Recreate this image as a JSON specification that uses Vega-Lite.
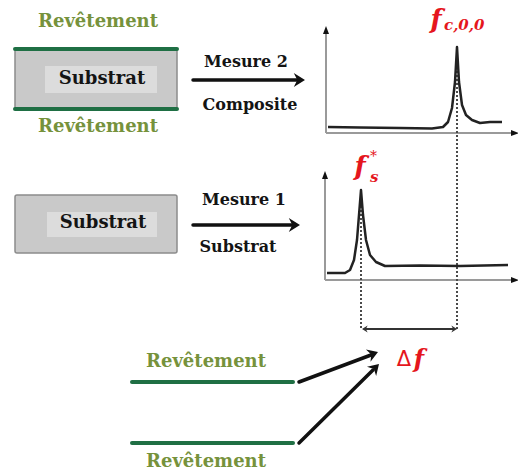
{
"$schema": "https://vega.github.io/schema/vega-lite/v6.json",
"width": 518, "height": 472, "padding": 0, "autosize": {"type": "none"},
"background": "white",
"config": {"view": {"stroke": null}},
"datasets": {
"boxes": [
{"part":"outer","x":15,"x2":177,"y":48,"y2":110},
{"part":"outer","x":15,"x2":177,"y":195,"y2":253},
{"part":"inner","x":45,"x2":157,"y":66,"y2":93},
{"part":"inner","x":47,"x2":157,"y":212,"y2":237}
],
"segments": [
{"part":"coat","x":15,"y":49,"x2":177,"y2":49},
{"part":"coat","x":15,"y":109,"x2":177,"y2":109},
{"part":"coat","x":132,"y":382,"x2":293,"y2":382},
{"part":"coat","x":132,"y":443,"x2":293,"y2":443},
{"part":"axis","x":326,"y":133,"x2":326,"y2":31},
{"part":"axis","x":326,"y":133,"x2":513,"y2":133},
{"part":"axis","x":325,"y":280,"x2":325,"y2":176},
{"part":"axis","x":325,"y":280,"x2":514,"y2":280},
{"part":"shaft","x":193,"y":80,"x2":298,"y2":80},
{"part":"shaft","x":193,"y":225,"x2":293,"y2":225},
{"part":"shaft","x":299,"y":382,"x2":371,"y2":355},
{"part":"shaft","x":299,"y":443,"x2":373,"y2":370},
{"part":"guide","x":457,"y":47,"x2":457,"y2":329},
{"part":"guide","x":361,"y":190,"x2":361,"y2":329},
{"part":"bracket","x":364,"y":329,"x2":455,"y2":329}
],
"curves": [
{"s":"composite","x":328,"y":127},{"s":"composite","x":360,"y":127.5},{"s":"composite","x":400,"y":128},{"s":"composite","x":432,"y":128.5},{"s":"composite","x":443,"y":127},{"s":"composite","x":448,"y":122},{"s":"composite","x":452,"y":108},{"s":"composite","x":455,"y":82},{"s":"composite","x":457,"y":47},{"s":"composite","x":459,"y":82},{"s":"composite","x":462,"y":105},{"s":"composite","x":466,"y":115},{"s":"composite","x":472,"y":120},{"s":"composite","x":480,"y":123},{"s":"composite","x":490,"y":122},{"s":"composite","x":502,"y":122},
{"s":"substrat","x":327,"y":273},{"s":"substrat","x":345,"y":273},{"s":"substrat","x":350,"y":270},{"s":"substrat","x":354,"y":260},{"s":"substrat","x":357,"y":240},{"s":"substrat","x":359,"y":215},{"s":"substrat","x":361,"y":190},{"s":"substrat","x":363,"y":215},{"s":"substrat","x":366,"y":240},{"s":"substrat","x":370,"y":255},{"s":"substrat","x":376,"y":262},{"s":"substrat","x":385,"y":266},{"s":"substrat","x":420,"y":265.5},{"s":"substrat","x":460,"y":266},{"s":"substrat","x":508,"y":265}
],
"heads": [
{"part":"right","x":305,"y":80},
{"part":"right","x":300,"y":225},
{"part":"diag1","x":378,"y":352},
{"part":"diag2","x":379,"y":364},
{"part":"up","x":326,"y":26},
{"part":"up","x":325,"y":171},
{"part":"axisright","x":519,"y":133},
{"part":"axisright","x":519,"y":280},
{"part":"bleft","x":362,"y":329},
{"part":"bright","x":457,"y":329}
],
"labels": [
{"part":"coat","text":"Revêtement","x":98,"y":22},
{"part":"coat","text":"Revêtement","x":98,"y":127},
{"part":"coat","text":"Revêtement","x":206,"y":362},
{"part":"coat","text":"Revêtement","x":206,"y":462},
{"part":"box","text":"Substrat","x":102,"y":79},
{"part":"box","text":"Substrat","x":103,"y":223},
{"part":"arrow","text":"Mesure 2","x":246,"y":62},
{"part":"arrow","text":"Composite","x":250,"y":105},
{"part":"arrow","text":"Mesure 1","x":244,"y":200},
{"part":"arrow","text":"Substrat","x":238,"y":247},
{"part":"mathf","text":"f","x":436,"y":20},
{"part":"sub","text":"c,0,0","x":444,"y":25},
{"part":"mathf","text":"f","x":360,"y":167},
{"part":"sub","text":"s","x":370,"y":177},
{"part":"sup","text":"*","x":370,"y":157},
{"part":"delta","text":"Δ","x":404,"y":360},
{"part":"mathf2","text":"f","x":419,"y":360}
]
},
"encoding": {
"x": {"field":"x","type":"quantitative","scale":{"domain":[0,518],"nice":false,"zero":false},"axis":null},
"y": {"field":"y","type":"quantitative","scale":{"domain":[0,472],"reverse":true,"nice":false,"zero":false},"axis":null}
},
"layer": [
{"data":{"name":"boxes"},"transform":[{"filter":"datum.part==='outer'"}],
 "mark":{"type":"rect","fill":"#c9c9c9","stroke":"#8c8c8c","strokeWidth":1.5,"cornerRadius":2},
 "encoding":{"x2":{"field":"x2"},"y2":{"field":"y2"}}},
{"data":{"name":"boxes"},"transform":[{"filter":"datum.part==='inner'"}],
 "mark":{"type":"rect","fill":"#dcdcdc"},
 "encoding":{"x2":{"field":"x2"},"y2":{"field":"y2"}}},
{"data":{"name":"segments"},"transform":[{"filter":"datum.part==='coat'"}],
 "mark":{"type":"rule","stroke":"#1f6f44","strokeWidth":4,"strokeCap":"round"},
 "encoding":{"x2":{"field":"x2"},"y2":{"field":"y2"}}},
{"data":{"name":"segments"},"transform":[{"filter":"datum.part==='axis'"}],
 "mark":{"type":"rule","stroke":"#9a9a9a","strokeWidth":2},
 "encoding":{"x2":{"field":"x2"},"y2":{"field":"y2"}}},
{"data":{"name":"segments"},"transform":[{"filter":"datum.part==='guide'"}],
 "mark":{"type":"rule","stroke":"#4a4a4a","strokeWidth":2,"strokeDash":[2,2]},
 "encoding":{"x2":{"field":"x2"},"y2":{"field":"y2"}}},
{"data":{"name":"segments"},"transform":[{"filter":"datum.part==='bracket'"}],
 "mark":{"type":"rule","stroke":"#333","strokeWidth":1.8},
 "encoding":{"x2":{"field":"x2"},"y2":{"field":"y2"}}},
{"data":{"name":"segments"},"transform":[{"filter":"datum.part==='shaft'"}],
 "mark":{"type":"rule","stroke":"#111","strokeWidth":3.5,"strokeCap":"round"},
 "encoding":{"x2":{"field":"x2"},"y2":{"field":"y2"}}},
{"data":{"name":"curves"},
 "mark":{"type":"line","stroke":"#222","strokeWidth":2.5,"strokeJoin":"round"},
 "encoding":{"detail":{"field":"s"}}},
{"data":{"name":"heads"},"transform":[{"filter":"datum.part==='right'"}],
 "mark":{"type":"point","shape":"M0,0 L-1.6,-1 L-1.1,0 L-1.6,1 Z","filled":true,"fill":"#111","opacity":1,"size":196,"angle":0}},
{"data":{"name":"heads"},"transform":[{"filter":"datum.part==='diag1'"}],
 "mark":{"type":"point","shape":"M0,0 L-1.6,-1 L-1.1,0 L-1.6,1 Z","filled":true,"fill":"#111","opacity":1,"size":170,"angle":339.6}},
{"data":{"name":"heads"},"transform":[{"filter":"datum.part==='diag2'"}],
 "mark":{"type":"point","shape":"M0,0 L-1.6,-1 L-1.1,0 L-1.6,1 Z","filled":true,"fill":"#111","opacity":1,"size":170,"angle":315.4}},
{"data":{"name":"heads"},"transform":[{"filter":"datum.part==='up'"}],
 "mark":{"type":"point","shape":"M0,0 L0.6,1.6 L-0.6,1.6 Z","filled":true,"fill":"#111","opacity":1,"size":100,"angle":0}},
{"data":{"name":"heads"},"transform":[{"filter":"datum.part==='axisright'"}],
 "mark":{"type":"point","shape":"M0,0 L0.6,1.6 L-0.6,1.6 Z","filled":true,"fill":"#111","opacity":1,"size":100,"angle":90}},
{"data":{"name":"heads"},"transform":[{"filter":"datum.part==='bleft'"}],
 "mark":{"type":"point","shape":"M0,0 L-1.6,-1 L-1.1,0 L-1.6,1 Z","filled":true,"fill":"#333","opacity":1,"size":50,"angle":180}},
{"data":{"name":"heads"},"transform":[{"filter":"datum.part==='bright'"}],
 "mark":{"type":"point","shape":"M0,0 L-1.6,-1 L-1.1,0 L-1.6,1 Z","filled":true,"fill":"#333","opacity":1,"size":50,"angle":0}},
{"data":{"name":"labels"},"transform":[{"filter":"datum.part==='coat'"}],
 "mark":{"type":"text","font":"DejaVu Serif","fontWeight":"bold","fontSize":18,"fill":"#76923c","align":"center","baseline":"middle"},
 "encoding":{"text":{"field":"text"}}},
{"data":{"name":"labels"},"transform":[{"filter":"datum.part==='box'"}],
 "mark":{"type":"text","font":"DejaVu Serif","fontWeight":"bold","fontSize":18,"fill":"#141414","align":"center","baseline":"middle"},
 "encoding":{"text":{"field":"text"}}},
{"data":{"name":"labels"},"transform":[{"filter":"datum.part==='arrow'"}],
 "mark":{"type":"text","font":"DejaVu Serif","fontWeight":"bold","fontSize":16,"fill":"#141414","align":"center","baseline":"middle"},
 "encoding":{"text":{"field":"text"}}},
{"data":{"name":"labels"},"transform":[{"filter":"datum.part==='mathf'"}],
 "mark":{"type":"text","font":"DejaVu Serif","fontStyle":"italic","fontWeight":"bold","fontSize":26,"fill":"#e5161d","align":"center","baseline":"middle"},
 "encoding":{"text":{"field":"text"}}},
{"data":{"name":"labels"},"transform":[{"filter":"datum.part==='sub'"}],
 "mark":{"type":"text","font":"DejaVu Serif","fontStyle":"italic","fontWeight":"bold","fontSize":15,"fill":"#e5161d","align":"left","baseline":"middle"},
 "encoding":{"text":{"field":"text"}}},
{"data":{"name":"labels"},"transform":[{"filter":"datum.part==='sup'"}],
 "mark":{"type":"text","font":"DejaVu Serif","fontStyle":"italic","fontSize":14,"fill":"#e5161d","align":"left","baseline":"middle"},
 "encoding":{"text":{"field":"text"}}},
{"data":{"name":"labels"},"transform":[{"filter":"datum.part==='delta'"}],
 "mark":{"type":"text","font":"DejaVu Sans","fontSize":21,"fill":"#e5161d","align":"center","baseline":"middle"},
 "encoding":{"text":{"field":"text"}}},
{"data":{"name":"labels"},"transform":[{"filter":"datum.part==='mathf2'"}],
 "mark":{"type":"text","font":"DejaVu Serif","fontStyle":"italic","fontWeight":"bold","fontSize":24,"fill":"#e5161d","align":"center","baseline":"middle"},
 "encoding":{"text":{"field":"text"}}}
]
}
